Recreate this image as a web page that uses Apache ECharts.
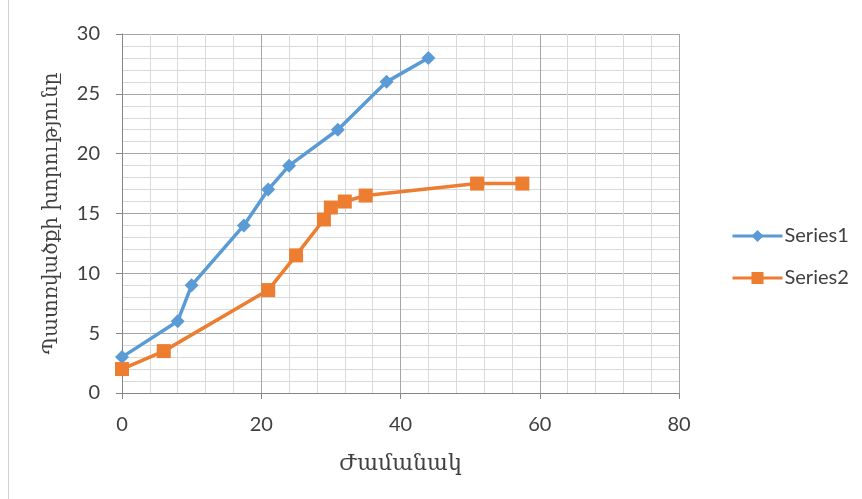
<!DOCTYPE html>
<html><head><meta charset="utf-8">
<script src="https://cdn.jsdelivr.net/npm/echarts@6/dist/echarts.min.js"></script>
<style>html,body{margin:0;padding:0;background:#fff}#c{width:862px;height:499px}</style>
</head><body><div id="c"></div>
<script>
const series1X = [0, 8, 10, 17.5, 21, 24, 31, 38, 44];
const series1Y = [3, 6, 9, 14, 17, 19, 22, 26, 28];
const series2X = [0, 6, 21, 25, 29, 30, 32, 35, 51, 57.5];
const series2Y = [2, 3.5, 8.6, 11.5, 14.5, 15.5, 16, 16.5, 17.5, 17.5];
const seriesNames = ['Series1', 'Series2'];
const xTitle = 'Ժամանակ';
const yTitle = 'Պատռվածքի խորությունը';

const chart = echarts.init(document.getElementById('c'));
const lbl = {color:'#404040', fontSize:20, fontFamily:'Lato'};
chart.setOption({
  animation:false,
  graphic:[{type:'line', shape:{x1:8.5,y1:0,x2:8.5,y2:499}, style:{stroke:'#d0d0d0', lineWidth:1}}],
  grid:{left:122, right:183, top:34, bottom:106, containLabel:false},
  legend:{orient:'vertical', left:726, top:221, itemGap:22, itemWidth:50, itemHeight:15,
    lineStyle:{width:3},
    textStyle:{color:'#404040', fontSize:20, fontFamily:'Lato', padding:[0,0,0,-3]},
    data:seriesNames},
  xAxis:{type:'value', min:0, max:80, interval:20,
    name:xTitle, nameLocation:'middle', nameGap:60,
    nameTextStyle:{color:'#404040', fontSize:22, fontFamily:'DejaVu Serif'},
    axisLine:{show:true, onZero:false, lineStyle:{color:'#868686'}},
    axisTick:{show:true, length:6, lineStyle:{color:'#868686'}},
    axisLabel:Object.assign({margin:22}, lbl),
    splitLine:{show:true, lineStyle:{color:'#a6a6a6'}},
    minorTick:{show:false, splitNumber:5},
    minorSplitLine:{show:true, lineStyle:{color:'#d9d9d9'}}},
  yAxis:{type:'value', min:0, max:30, interval:5,
    name:yTitle, nameLocation:'middle', nameGap:60, nameRotate:90,
    nameTextStyle:{color:'#404040', fontSize:20, fontFamily:'DejaVu Serif'},
    axisLine:{show:true, lineStyle:{color:'#868686'}},
    axisTick:{show:true, length:6, lineStyle:{color:'#868686'}},
    axisLabel:Object.assign({margin:22}, lbl),
    splitLine:{show:true, lineStyle:{color:'#a6a6a6'}},
    minorTick:{show:false, splitNumber:5},
    minorSplitLine:{show:true, lineStyle:{color:'#d9d9d9'}}},
  series:[
    {name:seriesNames[0], type:'line', data:series1X.map((x,i)=>[x,series1Y[i]]),
     symbol:'diamond', symbolSize:14, color:'#5b9bd5',
     lineStyle:{width:3.5, color:'#5b9bd5'}, itemStyle:{color:'#5b9bd5'}},
    {name:seriesNames[1], type:'line', data:series2X.map((x,i)=>[x,series2Y[i]]),
     symbol:'rect', symbolSize:14, color:'#ed7d31',
     lineStyle:{width:3.5, color:'#ed7d31'}, itemStyle:{color:'#ed7d31'}}
  ]
});
</script></body></html>
